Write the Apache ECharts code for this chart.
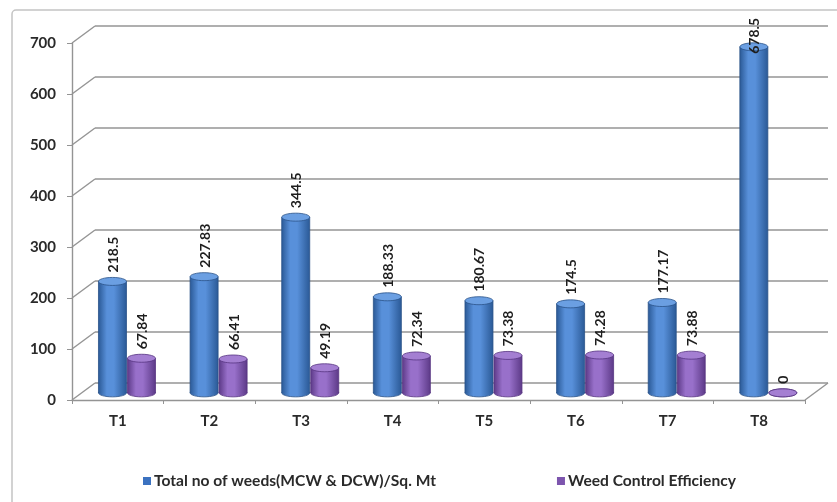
<!DOCTYPE html>
<html>
<head>
<meta charset="utf-8">
<script src="https://cdn.jsdelivr.net/npm/echarts@6/dist/echarts.min.js"></script>
<style>
  html, body { margin: 0; padding: 0; background: #fff; }
  #chart { width: 837px; height: 502px; }
</style>
</head>
<body>
<div id="chart"></div>
<script>
// Treatments and measured values
const categories = ['T1', 'T2', 'T3', 'T4', 'T5', 'T6', 'T7', 'T8'];
const totalWeeds = [218.5, 227.83, 344.5, 188.33, 180.67, 174.5, 177.17, 678.5];
const weedControlEfficiency = [67.84, 66.41, 49.19, 72.34, 73.38, 74.28, 73.88, 0];
const yTicks = [0, 100, 200, 300, 400, 500, 600, 700];
const seriesNames = ['Total no of weeds(MCW & DCW)/Sq. Mt', 'Weed Control Efficiency'];

// 3D look: depth of the floor/wall, and where the bars sit inside that depth
const DEPTH_X = 23, DEPTH_Y = -17;
const BAR_DEPTH = 0.42;
const BAR_W = 28;
const CAP_RY = 4;
const FONT = 'Lato, "Open Sans", sans-serif';
const LABEL_FONT = 'bold 14px ' + FONT;
const LABEL_GAP = 9;
const LABEL_TOP_LIMIT = 18; // value labels never run above this line
const GRID_COLOR = '#949494';

const palettes = [
  { edge: '#2b5a97', light: '#5890da', cap: '#6b9fe2', stroke: '#2a5288' },
  { edge: '#5d3a88', light: '#9870ca', cap: '#a47fd2', stroke: '#553380' }
];

// text length for placing rotated value labels
const measureCtx = document.createElement('canvas').getContext('2d');
function textLength(str) {
  measureCtx.font = LABEL_FONT;
  return measureCtx.measureText(str).width;
}

const chart = echarts.init(document.getElementById('chart'), null, { renderer: 'canvas' });

// Wall and floor lines drawn behind the bars
function renderWall(params, api) {
  const cs = params.coordSys;
  const v = api.value(0);
  const y = api.coord([0, v])[1];
  const x0 = cs.x, x1 = cs.x + cs.width;
  const style = { stroke: GRID_COLOR, lineWidth: 1.4, fill: null };
  const children = [
    { type: 'line', shape: { x1: x0, y1: y, x2: x0 + DEPTH_X, y2: y + DEPTH_Y }, style },
    { type: 'line', shape: { x1: x0 + DEPTH_X, y1: y + DEPTH_Y, x2: x1 + DEPTH_X, y2: y + DEPTH_Y }, style }
  ];
  if (v === 0) {
    children.push({ type: 'line', shape: { x1: x1, y1: y, x2: x1 + DEPTH_X, y2: y + DEPTH_Y }, style });
  }
  return { type: 'group', children };
}

// Cylinder bar with value label
function makeCylinder(seriesIndex) {
  const pal = palettes[seriesIndex];
  return function (params, api) {
    const idx = api.value(0);
    const val = api.value(1);
    const base = api.coord([idx, 0]);
    const top = api.coord([idx, val]);
    const sx = DEPTH_X * BAR_DEPTH, sy = DEPTH_Y * BAR_DEPTH;
    const offset = (seriesIndex === 0 ? -0.5 : 0.5) * (BAR_W + 1) - 0.5;
    const cx = base[0] + sx + offset;
    const yb = base[1] + sy;
    const yt = top[1] + sy;
    const left = cx - BAR_W / 2;
    const grad = new echarts.graphic.LinearGradient(0, 0, 1, 0, [
      { offset: 0, color: pal.edge },
      { offset: 0.3, color: pal.light },
      { offset: 0.55, color: pal.light },
      { offset: 1, color: pal.edge }
    ]);
    const children = [
      { type: 'ellipse', shape: { cx: cx, cy: yb, rx: BAR_W / 2, ry: CAP_RY },
        style: { fill: grad, stroke: pal.stroke, lineWidth: 0.8 } }
    ];
    if (yb - yt > 0.5) {
      children.push({ type: 'rect', shape: { x: left, y: yt, width: BAR_W, height: yb - yt },
        style: { fill: grad, stroke: null } });
      children.push({ type: 'line', shape: { x1: left, y1: yt, x2: left, y2: yb },
        style: { stroke: pal.stroke, lineWidth: 0.8 } });
      children.push({ type: 'line', shape: { x1: left + BAR_W, y1: yt, x2: left + BAR_W, y2: yb },
        style: { stroke: pal.stroke, lineWidth: 0.8 } });
    }
    children.push({ type: 'ellipse', shape: { cx: cx, cy: yt, rx: BAR_W / 2, ry: CAP_RY },
      style: { fill: pal.cap, stroke: pal.stroke, lineWidth: 0.8 } });

    // label reads bottom-to-top; pushed down when it would leave the plot
    const label = String(val);
    const len = textLength(label);
    let startY = yt - LABEL_GAP;
    if (startY - len < LABEL_TOP_LIMIT) startY = LABEL_TOP_LIMIT + len;
    children.push({
      type: 'text', x: cx + 1, y: startY, rotation: Math.PI / 2, z2: 10,
      style: {
        text: label, fill: '#1e1e1e', font: LABEL_FONT,
        align: 'left', verticalAlign: 'middle'
      }
    });
    return { type: 'group', children };
  };
}

const option = {
  backgroundColor: '#fff',
  animation: false,
  graphic: [
    { type: 'rect', shape: { x: 12, y: 10, width: 860, height: 520, r: 4 },
      style: { fill: null, stroke: '#c4c4c4', lineWidth: 1.5 }, z: -10 }
  ],
  grid: { left: 72, right: 32, top: 43, bottom: 102 },
  legend: {
    left: 138, top: 468,
    itemWidth: 8, itemHeight: 8, itemGap: 121, icon: 'rect',
    textStyle: { fontFamily: FONT, fontSize: 15.6, fontWeight: 'bold', color: '#2a2a2a', padding: [0, 0, 0, -2] },
    data: seriesNames
  },
  xAxis: {
    type: 'category', data: categories,
    axisLine: { show: true, lineStyle: { color: GRID_COLOR, width: 1.4 } },
    axisTick: { show: true, length: 4, lineStyle: { color: GRID_COLOR } },
    axisLabel: { margin: 14, fontFamily: FONT, fontSize: 15, fontWeight: 'bold', color: '#2a2a2a' },
    splitLine: { show: false }
  },
  yAxis: {
    type: 'value', min: 0, max: 700, interval: 100,
    axisLine: { show: true, lineStyle: { color: GRID_COLOR, width: 1.4 } },
    axisTick: { show: true, length: 5, lineStyle: { color: GRID_COLOR } },
    axisLabel: { margin: 16, fontFamily: FONT, fontSize: 15, fontWeight: 'bold', color: '#2a2a2a' },
    splitLine: { show: false }
  },
  series: [
    {
      name: 'wall', type: 'custom', renderItem: renderWall, silent: true, z: 1,
      data: yTicks.map(v => [v]), encode: { x: -1, y: 0 }, clip: false
    },
    {
      name: seriesNames[0], type: 'custom', renderItem: makeCylinder(0), z: 5,
      itemStyle: { color: '#3b72c0' },
      data: totalWeeds.map((v, i) => [i, v]), encode: { x: 0, y: 1 }, clip: false
    },
    {
      name: seriesNames[1], type: 'custom', renderItem: makeCylinder(1), z: 5,
      itemStyle: { color: '#7d55ae' },
      data: weedControlEfficiency.map((v, i) => [i, v]), encode: { x: 0, y: 1 }, clip: false
    }
  ]
};

chart.setOption(option);
</script>
</body>
</html>
